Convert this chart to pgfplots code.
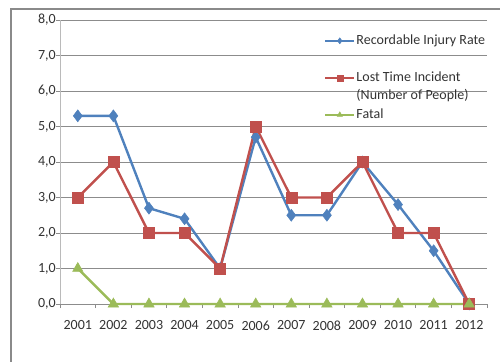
\documentclass[border=0pt]{standalone}
\usepackage{fontspec}
\setmainfont{Carlito}
\usepackage{pgfplots}
\pgfplotsset{compat=1.18}
\definecolor{cblue}{HTML}{4F81BD}
\definecolor{cred}{HTML}{C0504D}
\definecolor{cgreen}{HTML}{9BBB59}
\definecolor{cgrid}{HTML}{8C8C8C}
\definecolor{cframe}{HTML}{8A8A8A}
\begin{document}
\fontsize{14}{18}\selectfont
\begin{tikzpicture}
\begin{axis}[
  at={(60pt,57pt)}, anchor=south west,
  scale only axis, width=427pt, height=284pt,
  xmin=0.5, xmax=12.5, ymin=0, ymax=8,
  ytick={0,1,...,8},
  xtick={0.5,1.5,...,12.5},
  x tick label as interval,
  xticklabels={2001,2002,2003,2004,2005,2006,2007,2008,2009,2010,2011,2012},
  tick align=outside, major tick length=4pt,
  tick style={cgrid, line width=0.8pt},
  ymajorgrids, grid style={cgrid, line width=0.8pt},
  axis x line*=bottom, axis y line*=left,
  x axis line style={-, cgrid, line width=0.8pt},
  y axis line style={-, cgrid!60, line width=0.8pt},
  /pgf/number format/use comma, /pgf/number format/fixed, /pgf/number format/fixed zerofill,
  /pgf/number format/precision=1, /pgf/number format/assume math mode=true,
  yticklabel style={text=black!80, font=\fontsize{14}{16}\selectfont, anchor=east, inner xsep=0pt},
  xticklabel style={text=black!80, font=\fontsize{14}{16}\selectfont, yshift=-8pt},
  clip=false,
  legend style={at={(rel axis cs:0.611,0.967)}, anchor=north west, draw=none, fill=none,
    font=\fontsize{14}{18}\selectfont, text=black!80, row sep=0pt,
    nodes={inner xsep=1pt, inner ysep=0pt, text height=12.5pt, text depth=6pt}},
  legend cell align=left,
  legend image code/.code={\draw[mark repeat=2,mark phase=2,#1, mark size=3pt] plot coordinates {(0pt,0pt) (14.5pt,0pt) (29pt,0pt)};},
]
\addplot[cblue, line width=2.4pt, mark=diamond*, mark size=6pt, mark options={solid, line width=0.5pt}] coordinates {
 (1,5.3) (2,5.3) (3,2.7) (4,2.4) (5,1.0) (6,4.7) (7,2.5) (8,2.5) (9,4.0) (10,2.8) (11,1.5) (12,0.0)};
\addlegendentry{Recordable Injury Rate}
\addlegendimage{empty legend}
\addlegendentry{\mbox{}}
\addplot[cred, line width=2.4pt, mark=square*, mark size=5.5pt, mark options={solid, line width=0.5pt}] coordinates {
 (1,3) (2,4) (3,2) (4,2) (5,1) (6,5) (7,3) (8,3) (9,4) (10,2) (11,2) (12,0)};
\addlegendentry{Lost Time Incident}
\addlegendimage{empty legend}
\addlegendentry{(Number of People)}
\addplot[cgreen, line width=2.4pt, mark=triangle*, mark size=6pt, mark options={solid, line width=0.5pt}] coordinates {
 (1,1) (2,0) (3,0) (4,0) (5,0) (6,0) (7,0) (8,0) (9,0) (10,0) (11,0) (12,0)};
\addlegendentry{Fatal}
\end{axis}
\draw[cframe, line width=1.3pt] (11pt,-20pt) -- (11pt,352pt) -- (520pt,352pt);
\pgfresetboundingbox
\useasboundingbox (0pt,0pt) rectangle (500pt,361pt);
\end{tikzpicture}
\end{document}
